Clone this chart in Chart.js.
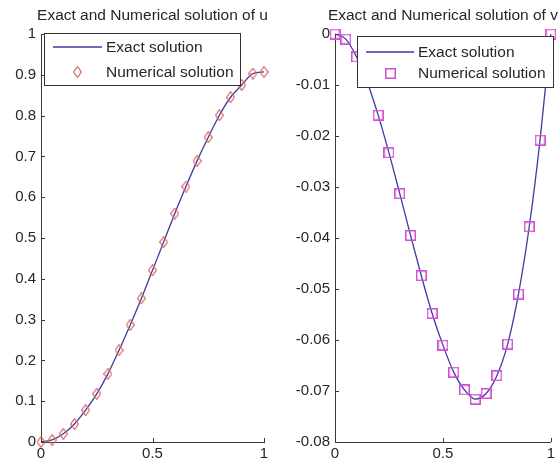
<!DOCTYPE html>
<html><head><meta charset="utf-8">
<script src="https://cdn.jsdelivr.net/npm/chart.js@4/dist/chart.umd.min.js"></script>
<style>
html,body{margin:0;padding:0;background:#fff;overflow:hidden}
#wrap{position:relative;width:558px;height:464px;background:#fff}
canvas{position:absolute;left:0;top:0}
</style></head><body>
<div id="wrap"><canvas id="cu" width="558" height="464"></canvas><canvas id="cv" width="558" height="464"></canvas></div>
<script>
// ---- data ----
const xValues = [0,0.05,0.1,0.15,0.2,0.25,0.3,0.35,0.4,0.45,0.5,0.55,0.6,0.65,0.7,0.75,0.8,0.85,0.9,0.95,1];
const uExact     = [0,0.005,0.02,0.044,0.078,0.118,0.167,0.225,0.287,0.352,0.421,0.49,0.56,0.626,0.689,0.747,0.801,0.845,0.875,0.903,0.907];
const uNumerical = [0,0.005,0.02,0.044,0.078,0.118,0.167,0.225,0.287,0.352,0.421,0.49,0.56,0.626,0.689,0.747,0.801,0.845,0.875,0.903,0.907];
const vExact     = [0,-0.001,-0.0045,-0.0095,-0.0159,-0.0233,-0.0313,-0.0395,-0.0474,-0.0548,-0.061,-0.0663,-0.0698,-0.0716,-0.0705,-0.067,-0.0608,-0.051,-0.0378,-0.0208,0];
const vNumerical = [0,-0.001,-0.0045,-0.0095,-0.0159,-0.0233,-0.0313,-0.0395,-0.0474,-0.0548,-0.061,-0.0663,-0.0698,-0.0716,-0.0705,-0.067,-0.0608,-0.051,-0.0378,-0.0208,0];
const xTicks = [0,0.5,1];
const xTickLabels = ['0','0.5','1'];
const uTicks = [0,0.1,0.2,0.3,0.4,0.5,0.6,0.7,0.8,0.9,1];
const uTickLabels = ['0','0.1','0.2','0.3','0.4','0.5','0.6','0.7','0.8','0.9','1'];
const vTicks = [-0.08,-0.07,-0.06,-0.05,-0.04,-0.03,-0.02,-0.01,0];
const vTickLabels = ['-0.08','-0.07','-0.06','-0.05','-0.04','-0.03','-0.02','-0.01','0'];
const titles = ['Exact and Numerical solution of u','Exact and Numerical solution of v'];
const seriesNames = ['Exact solution','Numerical solution'];

// ---- styles ----
const FONT = '"Liberation Sans", Arial, sans-serif';
const TXT = '#262626';
const AX = '#3a3a3a';
const LINE = '#3c3c9e';
const DIA = '#dd6a6a';
const SQ = '#d34ed3';

function diamondImg(w,h,color){
  const c=document.createElement('canvas');c.width=w;c.height=h;
  const g=c.getContext('2d');g.strokeStyle=color;g.lineWidth=1.2;
  g.beginPath();g.moveTo(w/2,0.6);g.lineTo(w-0.6,h/2);g.lineTo(w/2,h-0.6);g.lineTo(0.6,h/2);g.closePath();g.stroke();
  return c;
}
function squareImg(s,color){
  const c=document.createElement('canvas');c.width=s;c.height=s;
  const g=c.getContext('2d');g.strokeStyle=color;g.lineWidth=1.5;
  g.strokeRect(0.75,0.75,s-1.5,s-1.5);
  return c;
}
const diamond = diamondImg(9,12,DIA);
const square = squareImg(11,SQ);

const pts = (ys)=>xValues.map((x,i)=>({x:x,y:ys[i]}));

const decoPlugin = {
  id:'deco',
  afterDatasetsDraw(chart){
    const o = chart.options.plugins.deco;
    const ctx = chart.ctx, a = chart.chartArea;
    const xs = chart.scales.x, ys = chart.scales.y;
    ctx.save();
    // inward tick marks
    ctx.strokeStyle = AX; ctx.lineWidth = 1;
    ctx.beginPath();
    ys.ticks.forEach(t=>{const p=Math.round(ys.getPixelForValue(t.value))+0.5; ctx.moveTo(a.left,p); ctx.lineTo(a.left+4,p);});
    xs.ticks.forEach(t=>{const p=Math.round(xs.getPixelForValue(t.value))+0.5; ctx.moveTo(p,a.bottom); ctx.lineTo(p,a.bottom-4);});
    ctx.stroke();
    // title
    ctx.fillStyle = TXT; ctx.font = '15.5px '+FONT; ctx.textAlign='center'; ctx.textBaseline='middle';
    ctx.fillText(o.title, (a.left+a.right)/2, 16);
    // legend
    const L = o.legend;
    ctx.fillStyle='#fff'; ctx.fillRect(L.x,L.y,L.w,L.h);
    ctx.strokeStyle='#333'; ctx.lineWidth=1; ctx.strokeRect(L.x+0.5,L.y+0.5,L.w,L.h);
    ctx.strokeStyle=LINE; ctx.lineWidth=1.3;
    ctx.beginPath(); ctx.moveTo(L.x+L.lx0,L.y+L.r1); ctx.lineTo(L.x+L.lx1,L.y+L.r1); ctx.stroke();
    const img = chart.data.datasets[1].pointStyle;
    ctx.drawImage(img, Math.round(L.x+(L.lx0+L.lx1)/2-img.width/2), Math.round(L.y+L.r2-img.height/2));
    ctx.fillStyle=TXT; ctx.font='15.5px '+FONT; ctx.textAlign='left'; ctx.textBaseline='middle';
    ctx.fillText(seriesNames[0], L.x+L.tx, L.y+L.r1+1);
    ctx.fillText(seriesNames[1], L.x+L.tx, L.y+L.r2+1);
    ctx.restore();
  }
};

function makeChart(id, exact, num, marker, yTicks, yLabels, yMin, yMax, pad, yWidth, title, legend){
  return new Chart(document.getElementById(id), {
    type:'line',
    data:{datasets:[
      {data:pts(exact), borderColor:LINE, borderWidth:1.3, pointRadius:0, cubicInterpolationMode:'monotone', clip:false, order:2},
      {data:pts(num), showLine:false, pointStyle:marker, pointRadius:6, borderColor:marker===diamond?DIA:SQ, clip:false, order:1}
    ]},
    options:{
      responsive:false, animation:false, devicePixelRatio:1,
      layout:{padding:pad, autoPadding:false},
      events:[],
      plugins:{legend:{display:false}, title:{display:false}, tooltip:{enabled:false},
        deco:{title:title, legend:legend}},
      scales:{
        x:{type:'linear', min:0, max:1,
          afterBuildTicks:s=>{s.ticks=xTicks.map(v=>({value:v}));},
          afterFit:s=>{s.height=22;},
          ticks:{callback:(v,i)=>xTickLabels[i], color:TXT, font:{family:FONT,size:15}, padding:3, maxRotation:0, autoSkip:false},
          grid:{drawOnChartArea:false, drawTicks:false}, border:{display:true,color:AX,width:1}},
        y:{type:'linear', min:yMin, max:yMax,
          afterBuildTicks:s=>{s.ticks=yTicks.map(v=>({value:v}));},
          afterFit:s=>{s.width=yWidth;},
          ticks:{callback:(v,i)=>yLabels[i], color:TXT, font:{family:FONT,size:15}, padding:5, autoSkip:false},
          grid:{drawOnChartArea:false, drawTicks:false}, border:{display:true,color:AX,width:1}}
      }
    },
    plugins:[decoPlugin]
  });
}

makeChart('cu', uExact, uNumerical, diamond, uTicks, uTickLabels, 0, 1,
  {left:0, top:34, right:294, bottom:0}, 41, titles[0],
  {x:44, y:33, w:196, h:52, lx0:9, lx1:58, tx:62, r1:14, r2:39});
makeChart('cv', vExact, vNumerical, square, vTicks, vTickLabels, -0.08, 0,
  {left:279, top:34, right:1, bottom:0}, 56, titles[1],
  {x:357, y:36, w:196, h:51, lx0:9, lx1:57, tx:61, r1:16, r2:37});
</script>
</body></html>
